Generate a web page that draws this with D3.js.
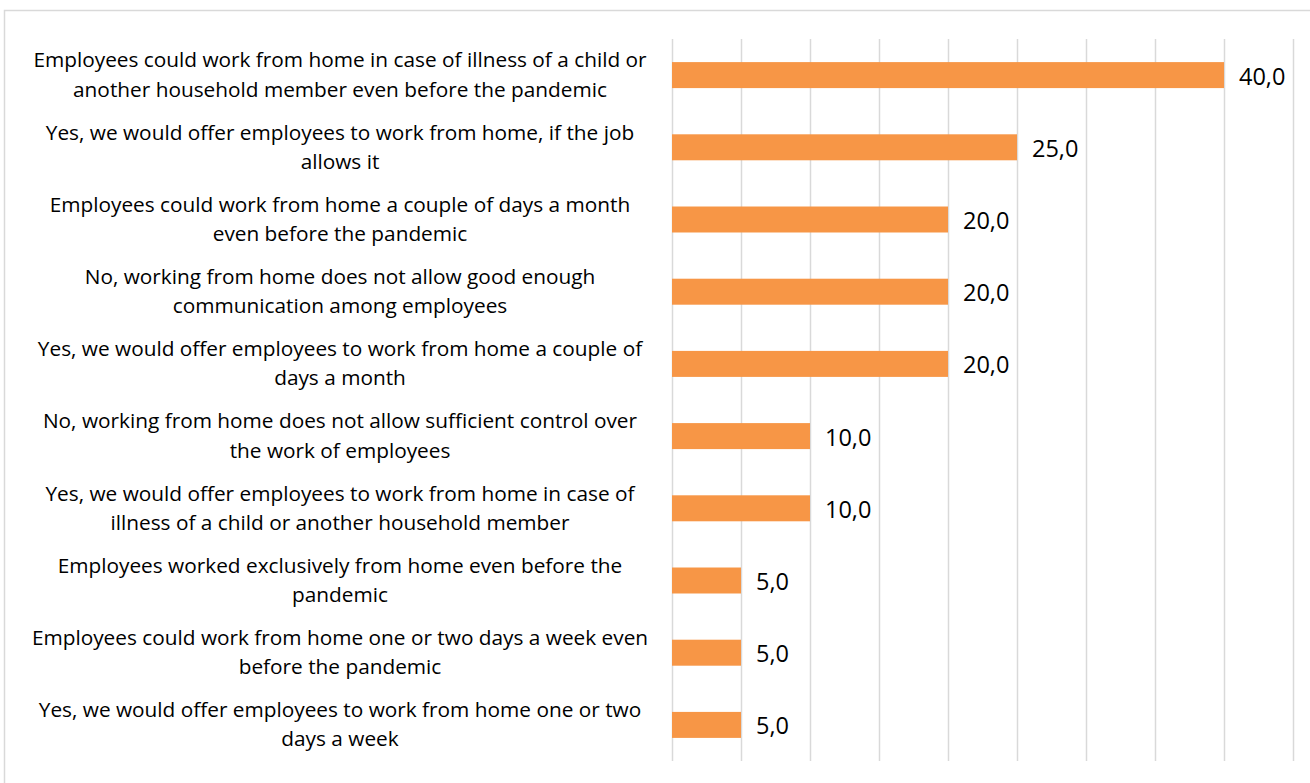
<!DOCTYPE html>
<html>
<head>
<meta charset="utf-8">
<script src="https://cdn.jsdelivr.net/npm/d3@7"></script>
<style>
  html, body { margin: 0; padding: 0; background: #fff; }
  svg { display: block; }
  text { font-family: "Open Sans", Lato, sans-serif; fill: #000; }
</style>
</head>
<body>
<svg id="chart" width="1310" height="783"></svg>
<script>
// Category labels, each split into its two printed lines
const categories = [
  ["Employees could work from home in case of illness of a child or", "another household member even before the pandemic"],
  ["Yes, we would offer employees to work from home, if the job", "allows it"],
  ["Employees could work from home a couple of days a month", "even before the pandemic"],
  ["No, working from home does not allow good enough", "communication among employees"],
  ["Yes, we would offer employees to work from home a couple of", "days a month"],
  ["No, working from home does not allow sufficient control over", "the work of employees"],
  ["Yes, we would offer employees to work from home in case of", "illness of a child or another household member"],
  ["Employees worked exclusively from home even before the", "pandemic"],
  ["Employees could work from home one or two days a week even", "before the pandemic"],
  ["Yes, we would offer employees to work from home one or two", "days a week"]
];
const values = [40, 25, 20, 20, 20, 10, 10, 5, 5, 5];
const gridTicks = [0, 5, 10, 15, 20, 25, 30, 35, 40, 45];

const svg = d3.select("#chart");

// chart area frame
svg.append("rect")
  .attr("x", 4.5).attr("y", 10.5)
  .attr("width", 1320).attr("height", 800)
  .attr("fill", "#fff")
  .attr("stroke", "#d9d9d9").attr("stroke-width", 1.5);

const plot = { left: 672, right: 1293, top: 39, bottom: 761 };

const x = d3.scaleLinear().domain([0, 45]).range([plot.left, plot.right]);
const y = d3.scaleBand()
  .domain(d3.range(categories.length))
  .range([plot.top, plot.bottom])
  .paddingInner(0.64).paddingOuter(0.32);

// vertical gridlines
const xAxis = d3.axisBottom(x).tickValues(gridTicks).tickSize(-(plot.bottom - plot.top)).tickFormat("");
const gx = svg.append("g").attr("transform", `translate(0,${plot.bottom})`).call(xAxis);
gx.select(".domain").remove();
gx.selectAll(".tick line").attr("stroke", "#d9d9d9").attr("stroke-width", 1.5);

// bars
svg.append("g").selectAll("rect")
  .data(values)
  .join("rect")
  .attr("x", x(0))
  .attr("y", (d, i) => y(i))
  .attr("width", d => x(d) - x(0))
  .attr("height", y.bandwidth())
  .attr("fill", "#f79646");

// value labels
const fmt = d => d3.format(".1f")(d).replace(".", ",");
svg.append("g").selectAll("text")
  .data(values)
  .join("text")
  .attr("x", d => x(d) + 15)
  .attr("y", (d, i) => y(i) + y.bandwidth() / 2)
  .attr("dy", "0.4em")
  .attr("font-size", 23.5)
  .text(fmt);

// category labels, two centred lines per row
const labelCenter = 340;
const lab = svg.append("g").selectAll("text")
  .data(categories)
  .join("text")
  .attr("text-anchor", "middle")
  .attr("font-size", 20.8)
  .attr("y", (d, i) => y(i) + y.bandwidth() / 2);
lab.selectAll("tspan")
  .data(d => d)
  .join("tspan")
  .attr("x", labelCenter)
  .attr("dy", (d, j) => j === 0 ? "-0.37em" : "1.4em")
  .text(d => d);
</script>
</body>
</html>
